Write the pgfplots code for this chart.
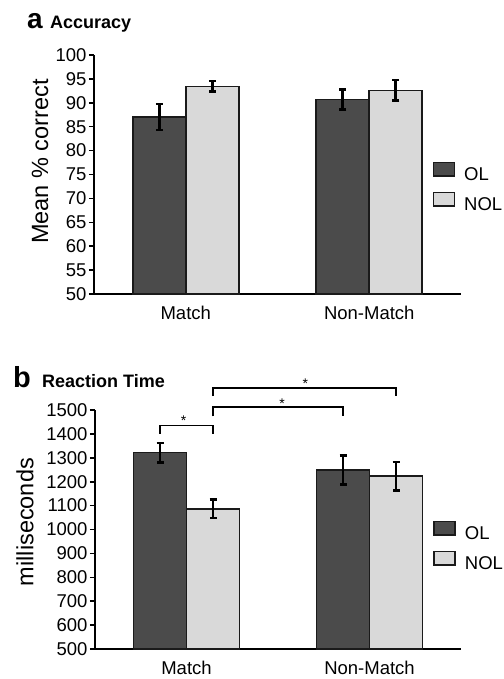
\documentclass[border=0pt]{standalone}
\usepackage{fontspec}
\setmainfont{Liberation Sans}
\usepackage{pgfplots}
\pgfplotsset{compat=1.18}
\definecolor{darkbar}{HTML}{4B4B4B}
\definecolor{lightbar}{HTML}{D9D9D9}
\definecolor{edge}{HTML}{1A1A1A}
\pgfplotsset{
  panel/.style={
    scale only axis, height=239pt,
    axis lines*=left, axis line style={line width=2pt, black, -},
    xmin=-0.5, xmax=1.5, xtick={0,1}, xticklabels={Match,Non-Match},
    xtick style={draw=none},
    ytick style={line width=1.6pt, black},
    tick align=outside, major tick length=5pt,
    ybar, bar width=53pt,
    tick label style={font=\fontsize{18.5}{19}\selectfont},
    yticklabel style={xshift=1pt},
    xticklabel style={yshift=-4pt},
    ylabel style={font=\fontsize{23.5}{25}\selectfont, anchor=center},
    /pgf/number format/assume math mode=true,
    /pgf/number format/1000 sep={},
    legend style={draw=none, fill=none, font=\fontsize{18.5}{19}\selectfont,
      legend cell align=left, row sep=8pt, column sep=7pt, inner sep=0pt},
    legend image code/.code={\draw[#1, line width=1.6pt] (0pt,-1.5pt) rectangle (21pt,12pt);},
    clip mode=individual,
  },
  olbar/.style={fill=darkbar, draw=edge, line width=1.6pt, bar shift=-26.5pt,
    error bars/.cd, y dir=both, y explicit,
    error bar style={line width=2.8pt, black},
    error mark options={rotate=90, line width=2.4pt, mark size=3.5pt, black}},
  nolbar/.style={fill=lightbar, draw=edge, line width=1.6pt, bar shift=26.5pt,
    error bars/.cd, y dir=both, y explicit,
    error bar style={line width=2.8pt, black},
    error mark options={rotate=90, line width=2.4pt, mark size=3.5pt, black}},
}
\begin{document}
\begin{tikzpicture}
\path[use as bounding box] (0,0) rectangle (503pt,-679pt);
% Panel a
\node[anchor=base west, inner sep=0pt, font=\fontsize{28}{28}\selectfont\bfseries] at (27pt,-29pt) {a};
\node[anchor=base west, inner sep=0pt, font=\fontsize{18}{18}\selectfont\bfseries] at (50pt,-29pt) {Accuracy};
\begin{axis}[panel, width=367pt, at={(94pt,-294pt)}, anchor=south west,
  ymin=50, ymax=100, ytick={50,55,...,100},
  ylabel={Mean \% correct},
  ylabel style={at={(axis description cs:-0.147,0.554)}},
  legend style={at={(axis description cs:0.922,0.555)}, anchor=north west}]
\addplot[olbar] coordinates {(0,87.0) +- (0,2.7) (1,90.7) +- (0,2.1)};
\addlegendentry{OL}
\addplot[nolbar] coordinates {(0,93.45) +- (0,1.05) (1,92.6) +- (0,2.15)};
\addlegendentry{NOL}
\end{axis}
% Panel b
\node[anchor=base west, inner sep=0pt, font=\fontsize{29}{29}\selectfont\bfseries] at (13pt,-387pt) {b};
\node[anchor=base west, inner sep=0pt, font=\fontsize{18}{18}\selectfont\bfseries] at (42pt,-387pt) {Reaction Time};
\begin{axis}[panel, width=366pt, at={(95pt,-649pt)}, anchor=south west,
  ymin=500, ymax=1500, ytick={500,600,...,1500},
  ylabel={milliseconds},
  ylabel style={at={(axis description cs:-0.191,0.531)}},
  legend style={at={(axis description cs:0.924,0.538)}, anchor=north west}]
\addplot[olbar] coordinates {(0,1322) +- (0,41) (1,1249) +- (0,60)};
\addlegendentry{OL}
\addplot[nolbar] coordinates {(0,1087) +- (0,38) (1,1223) +- (0,59)};
\addlegendentry{NOL}
\draw[line width=1.8pt, black] ([xshift=-26.5pt]axis cs:0,1400) |- ([xshift=26.5pt]axis cs:0,1435) -- ([xshift=26.5pt]axis cs:0,1398);
\draw[line width=1.8pt, black] ([xshift=26.5pt]axis cs:0,1473) |- ([xshift=-26.5pt]axis cs:1,1511) -- ([xshift=-26.5pt]axis cs:1,1473);
\draw[line width=1.8pt, black] ([xshift=26.5pt]axis cs:0,1558) |- ([xshift=26.5pt]axis cs:1,1591) -- ([xshift=26.5pt]axis cs:1,1558);
\node[inner sep=0pt, font=\fontsize{14}{14}\selectfont] at ([xshift=-3pt]axis cs:0,1454) {*};
\node[inner sep=0pt, font=\fontsize{14}{14}\selectfont] at ([xshift=4pt]axis cs:0.5,1526) {*};
\node[inner sep=0pt, font=\fontsize{14}{14}\selectfont] at (axis cs:0.65,1612) {*};
\end{axis}
\end{tikzpicture}
\end{document}
